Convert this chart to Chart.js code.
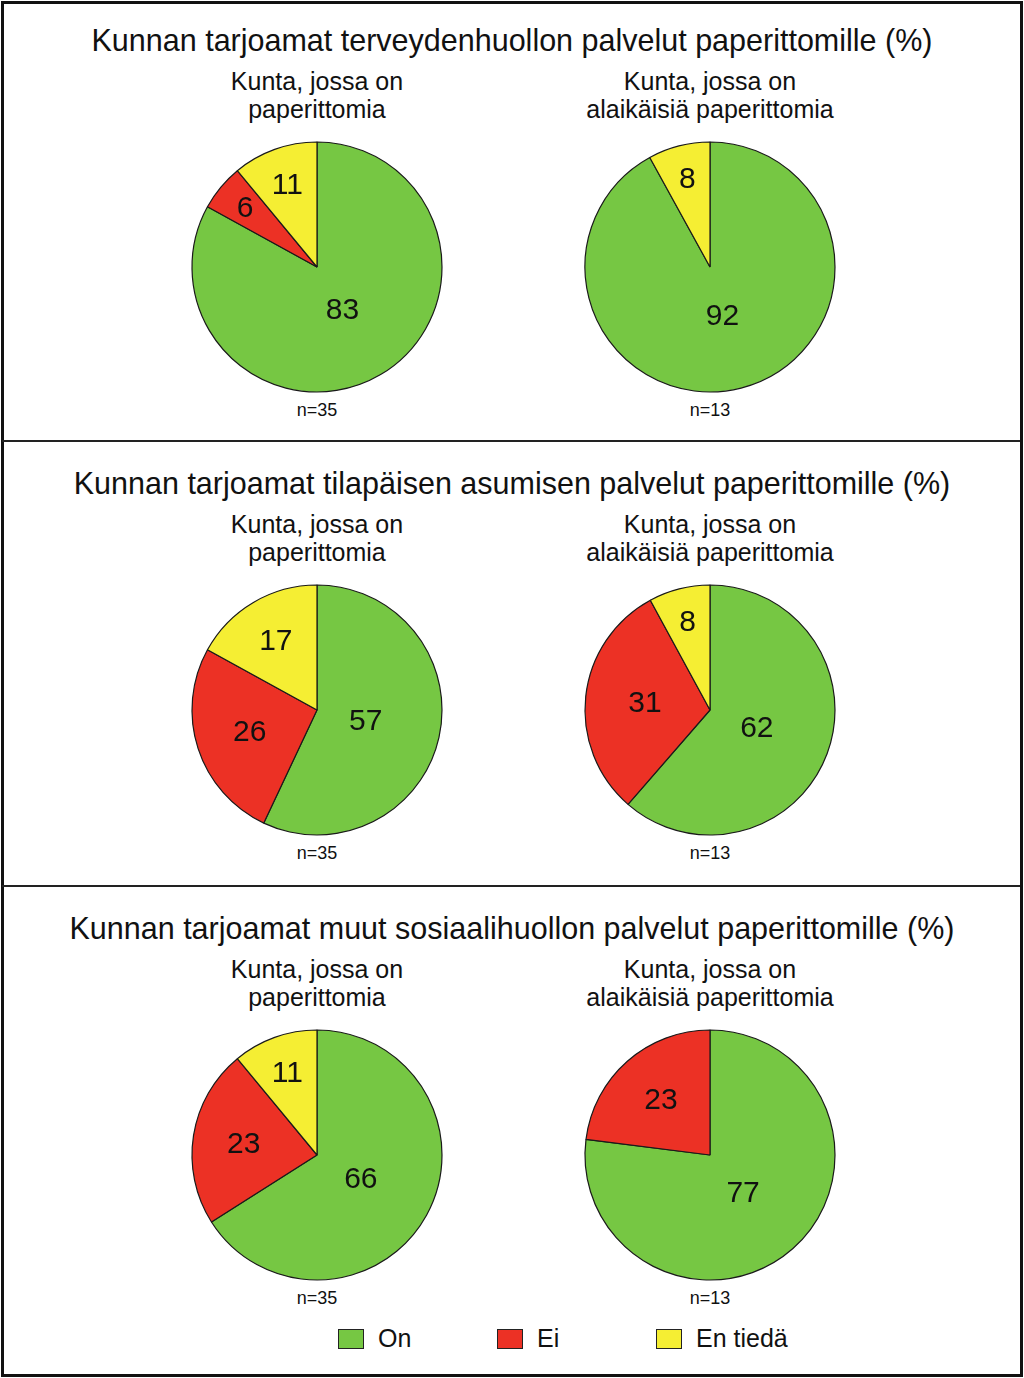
<!DOCTYPE html>
<html>
<head>
<meta charset="utf-8">
<script src="https://cdn.jsdelivr.net/npm/chart.js@4"></script>
<style>
    body { margin: 0; background: #fff; font-family: "Liberation Sans", Arial, sans-serif; color: #111; }
    #page { position: relative; width: 1024px; height: 1378px; overflow: hidden; }
    .frame { position: absolute; left: 1px; top: 1px; width: 1016px; height: 1370px; border: 3px solid #111; }
    .sep { position: absolute; left: 2px; width: 1018px; height: 2px; background: #222; }
    .title { position: absolute; width: 1024px; left: 0; text-align: center; font-size: 30.5px; line-height: 34px; }
    .sub { position: absolute; width: 340px; text-align: center; font-size: 25px; line-height: 28px; }
    .n { position: absolute; width: 100px; text-align: center; font-size: 18px; line-height: 20px; }
    canvas { position: absolute; }
    .legend { position: absolute; top: 1326px; left: 0; width: 1024px; height: 26px; }
    .box { position: absolute; top: 3px; width: 24px; height: 18px; border: 1.5px solid #222; }
    .ltxt { position: absolute; top: -2px; font-size: 25px; line-height: 28px; }
</style>
</head>
<body>
<div id="page">
    <div class="frame"></div>
    <div class="sep" style="top:440px"></div>
    <div class="sep" style="top:885px"></div>
</div>
<script>
let categories = ['On', 'Ei', 'En tiedä'];
let colors = ['#76c743', '#ec3125', '#f5ee33'];

let titles = [
    'Kunnan tarjoamat terveydenhuollon palvelut paperittomille (%)',
    'Kunnan tarjoamat tilapäisen asumisen palvelut paperittomille (%)',
    'Kunnan tarjoamat muut sosiaalihuollon palvelut paperittomille (%)'
];
let groups = [
    ['Kunta, jossa on', 'paperittomia'],
    ['Kunta, jossa on', 'alaikäisiä paperittomia']
];
let groupN = ['n=35', 'n=13'];

// [On, Ei, En tiedä] per panel, left and right pie
let health = [[83, 6, 11], [92, 0, 8]];
let housing = [[57, 26, 17], [62, 31, 8]];
let social = [[66, 23, 11], [77, 23, 0]];
let panels = [health, housing, social];

let page = document.getElementById('page');
let panelTop = [0, 443, 888];
let pieX = [317, 710];

// numbers inside the slices, pushed outward for small slices
let sliceLabels = {
    id: 'sliceLabels',
    afterDatasetsDraw(chart) {
        let ctx = chart.ctx;
        let values = chart.data.datasets[0].data;
        let total = values.reduce((a, b) => a + b, 0);
        ctx.save();
        ctx.font = '30px "Liberation Sans", Arial, sans-serif';
        ctx.fillStyle = '#111';
        ctx.textAlign = 'center';
        ctx.textBaseline = 'middle';
        chart.getDatasetMeta(0).data.forEach((arc, i) => {
            if (!values[i]) return;
            let p = values[i] / total;
            let frac = Math.max(0.4, 0.8 - 0.9 * p);
            let mid = (arc.startAngle + arc.endAngle) / 2;
            let r = arc.outerRadius * frac;
            ctx.fillText(String(values[i]), arc.x + Math.cos(mid) * r, arc.y + Math.sin(mid) * r + 1);
        });
        ctx.restore();
    }
};

function addDiv(cls, text, left, top) {
    let d = document.createElement('div');
    d.className = cls;
    d.textContent = text;
    if (left !== null) d.style.left = left + 'px';
    d.style.top = top + 'px';
    page.appendChild(d);
    return d;
}

panels.forEach((panel, pi) => {
    let y0 = panelTop[pi];
    addDiv('title', titles[pi], null, y0 + 23);
    panel.forEach((values, gi) => {
        let cx = pieX[gi];
        let cy = y0 + 267;
        addDiv('sub', groups[gi][0], cx - 170, y0 + 67);
        addDiv('sub', groups[gi][1], cx - 170, y0 + 95);
        addDiv('n', groupN[gi], cx - 50, y0 + 400);

        let canvas = document.createElement('canvas');
        canvas.width = 270;
        canvas.height = 270;
        canvas.style.left = (cx - 135) + 'px';
        canvas.style.top = (cy - 135) + 'px';
        canvas.style.width = '270px';
        canvas.style.height = '270px';
        page.appendChild(canvas);

        new Chart(canvas.getContext('2d'), {
            type: 'pie',
            data: {
                labels: categories,
                datasets: [{
                    data: values,
                    backgroundColor: colors,
                    borderColor: '#1a1a1a',
                    borderWidth: 1.2
                }]
            },
            options: {
                responsive: false,
                animation: false,
                events: [],
                radius: 125,
                layout: { padding: 0 },
                plugins: {
                    legend: { display: false },
                    tooltip: { enabled: false }
                }
            },
            plugins: [sliceLabels]
        });
    });
});

// legend
let legend = document.createElement('div');
legend.className = 'legend';
page.appendChild(legend);
let legendX = [338, 497, 656];
categories.forEach((name, i) => {
    let box = document.createElement('div');
    box.className = 'box';
    box.style.left = legendX[i] + 'px';
    box.style.background = colors[i];
    legend.appendChild(box);
    let t = document.createElement('div');
    t.className = 'ltxt';
    t.style.left = (legendX[i] + 40) + 'px';
    t.textContent = name;
    legend.appendChild(t);
});
</script>
</body>
</html>
